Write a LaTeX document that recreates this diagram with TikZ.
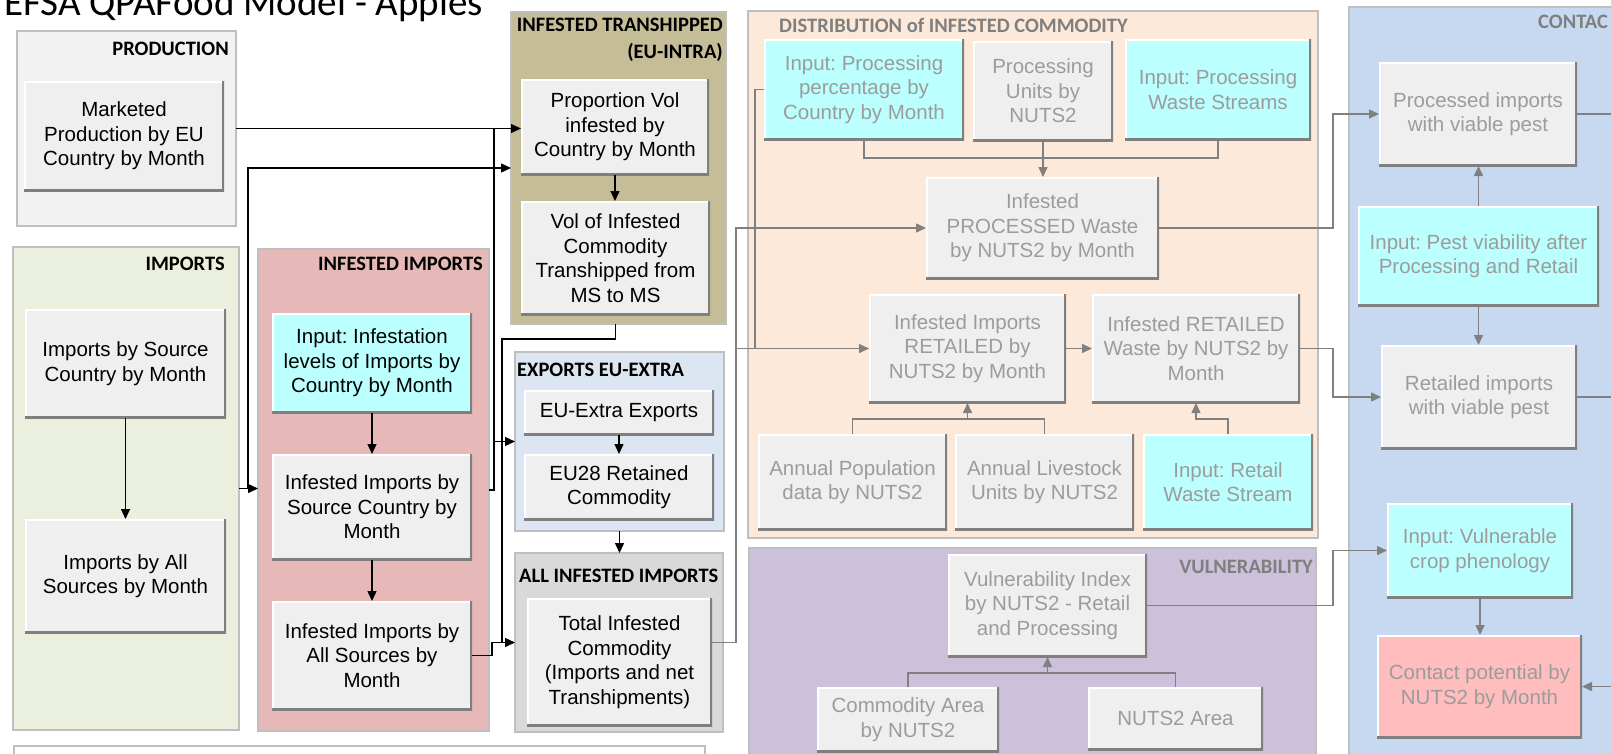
\documentclass[tikz,border=0pt]{standalone}
\usepackage{fontspec}
\newfontfamily\arialf{Liberation Sans}
\newfontfamily\calibf{Carlito}
\usetikzlibrary{arrows.meta,calc}
\frenchspacing
\definecolor{prodfill}{HTML}{F2F2F2}
\definecolor{impfill}{HTML}{EBF0DE}
\definecolor{inffill}{HTML}{E6B8B7}
\definecolor{tranfill}{HTML}{C4BD97}
\definecolor{expfill}{HTML}{DCE6F2}
\definecolor{allfill}{HTML}{D9D9D9}
\definecolor{distfill}{HTML}{FDE9D9}
\definecolor{vulfill}{HTML}{CCC0DA}
\definecolor{confill}{HTML}{C6D9F1}
\definecolor{contline}{HTML}{BFBFBF}
\definecolor{boxfill}{HTML}{EFEFEF}
\definecolor{cyanfill}{HTML}{BBFFFF}
\definecolor{pinkfill}{HTML}{FFBDBD}
\definecolor{shadowc}{HTML}{7F7F7F}
\definecolor{dimtext}{HTML}{9C9C9C}
\definecolor{labgray}{HTML}{7F7F7F}
\definecolor{graylink}{HTML}{808080}
\tikzset{
  cont/.style={draw=contline, line width=1.2pt, inner sep=0pt, outer sep=0pt},
  box/.style={fill=boxfill, inner sep=1pt, outer sep=0pt, align=center,
    font=\arialf\frenchspacing\fontsize{20.5}{24.5}\selectfont, text=black,
    path picture={
      \draw[white, line width=3pt] (path picture bounding box.south west) -- (path picture bounding box.north west) -- (path picture bounding box.north east);
      \draw[shadowc, line width=4.5pt] (path picture bounding box.north east) -- (path picture bounding box.south east) -- (path picture bounding box.south west);}},
  dbox/.style={box, text=dimtext},
  lab/.style={font=\calibf\bfseries\fontsize{20.5}{26}\selectfont, inner sep=0pt},
  blink/.style={draw=black, line width=1.4pt},
  glink/.style={draw=graylink, line width=1.5pt},
  arr/.style={-{Triangle[length=10pt,width=9pt]}},
}
\begin{document}
\begin{tikzpicture}[x=1pt,y=-1pt]
\useasboundingbox (0,0) rectangle (1611,753);
% title
\node[anchor=base west, inner sep=0pt, font=\calibf\fontsize{39}{41}\selectfont] (title) at (4,15) {EFSA QPAFood Model - Apples};
% containers
\node[cont, fill=prodfill, minimum width=219, minimum height=195] (prodC) at (126.5,128.5) {};
\node[cont, fill=impfill, minimum width=226, minimum height=483] (impC) at (126,488.5) {};
\node[cont, fill=inffill, minimum width=231, minimum height=482] (infC) at (373.5,490) {};
\node[cont, fill=tranfill, minimum width=215, minimum height=312] (tranC) at (618.5,168) {};
\node[cont, fill=expfill, minimum width=209, minimum height=179] (expC) at (619.5,441.5) {};
\node[cont, fill=allfill, minimum width=208, minimum height=179] (allC) at (619,642.5) {};
\node[cont, fill=distfill, minimum width=570, minimum height=527] (distC) at (1033,274.5) {};
\node[cont, fill=vulfill, minimum width=567, minimum height=222] (vulC) at (1032.5,659) {};
\node[cont, fill=confill, minimum width=291, minimum height=763] (conC) at (1494.5,388.5) {};
\node[cont, fill=white, minimum width=691, minimum height=30] (botC) at (359.5,761) {};
% container labels
\node[lab, anchor=base east] (prodL) at (229,55.6) {PRODUCTION};
\node[lab, anchor=base east] (impL) at (225,270.6) {IMPORTS};
\node[lab, anchor=base east] (infL) at (483,270.6) {INFESTED IMPORTS};
\node[lab, anchor=base east] (tranL) at (723,31.6) {INFESTED TRANSHIPPED};
\node[lab, anchor=base east] (tranLb) at (723,58.6) {(EU-INTRA)};
\node[lab, anchor=base west] (expL) at (517,376.6) {EXPORTS EU-EXTRA};
\node[lab, anchor=base west] (allL) at (519,582.6) {ALL INFESTED IMPORTS};
\node[lab, anchor=base west, text=labgray] (distL) at (779,32.6) {DISTRIBUTION of INFESTED COMMODITY};
\node[lab, anchor=base east, text=labgray] (vulL) at (1313,573.6) {VULNERABILITY};
\node[lab, anchor=base west, text=labgray] (conL) at (1538,28.6) {CONTAC};
% junction coordinates
\coordinate (j1) at (248,488.5);
\coordinate (j2) at (494,128.5);
\coordinate (j3) at (492,642.5);
\coordinate (j4) at (502,642.5);
\coordinate (jT) at (736,0);
\coordinate (jR) at (1333,0);
\coordinate (offR) at (1616,0);
% left boxes
\node[box, minimum width=200, minimum height=110] (mk) at (124,136) {Marketed\\Production by EU\\Country by Month};
\node[box, minimum width=201, minimum height=109] (isrc) at (125.5,363.5) {Imports by Source\\Country by Month};
\node[box, minimum width=201, minimum height=114] (iall) at (125.5,576) {Imports by All\\Sources by Month};
\node[box, fill=cyanfill, minimum width=200, minimum height=100] (ininp) at (372,363) {Input: Infestation\\levels of Imports by\\Country by Month};
\node[box, minimum width=200, minimum height=106] (insrc) at (372,507) {Infested Imports by\\Source Country by\\Month};
\node[box, minimum width=200, minimum height=109] (inall) at (372,655.5) {Infested Imports by\\All Sources by\\Month};
\node[box, minimum width=188, minimum height=96] (prop) at (615,127) {Proportion Vol\\infested by\\Country by Month};
\node[box, minimum width=189, minimum height=114] (vol) at (615.5,258) {Vol of Infested\\Commodity\\Transhipped from\\MS to MS};
\node[box, minimum width=190, minimum height=45] (euex) at (619,412.5) {EU-Extra Exports};
\node[box, minimum width=190, minimum height=66] (eu28) at (619,487) {EU28 Retained\\Commodity};
\node[box, minimum width=185, minimum height=128] (total) at (619.5,662) {Total Infested\\Commodity\\(Imports and net\\Transhipments)};
% distribution boxes
\node[dbox, fill=cyanfill, minimum width=200, minimum height=101] (pp) at (864,89.5) {Input: Processing\\percentage by\\Country by Month};
\node[dbox, minimum width=140, minimum height=100] (pu) at (1043,91) {Processing\\Units by\\NUTS2};
\node[dbox, fill=cyanfill, minimum width=186, minimum height=101] (pw) at (1218,89.5) {Input: Processing\\Waste Streams};
\node[dbox, minimum width=233, minimum height=102] (pwaste) at (1042.5,228) {Infested\\PROCESSED Waste\\by NUTS2 by Month};
\node[dbox, minimum width=197, minimum height=109] (ret) at (967.5,348.5) {Infested Imports\\RETAILED by\\NUTS2 by Month};
\node[dbox, minimum width=208, minimum height=109] (retw) at (1196,348.5) {Infested RETAILED\\Waste by NUTS2 by\\Month};
\node[dbox, minimum width=189, minimum height=96] (pop) at (852.5,482) {Annual Population\\data by NUTS2};
\node[dbox, minimum width=179, minimum height=96] (live) at (1044.5,482) {Annual Livestock\\Units by NUTS2};
\node[dbox, fill=cyanfill, minimum width=170, minimum height=96] (rws) at (1228,482) {Input: Retail\\Waste Stream};
% vulnerability boxes
\node[dbox, minimum width=199, minimum height=103] (vuln) at (1047.5,605.5) {Vulnerability Index\\by NUTS2 - Retail\\and Processing};
\node[dbox, minimum width=182, minimum height=65] (carea) at (908,719.5) {Commodity Area\\by NUTS2};
\node[dbox, minimum width=175, minimum height=63] (narea) at (1175.5,718.5) {NUTS2 Area};
% contact boxes
\node[dbox, minimum width=198, minimum height=104] (procv) at (1478,114) {Processed imports\\with viable pest};
\node[dbox, fill=cyanfill, minimum width=241, minimum height=100] (pest) at (1478.5,256) {Input: Pest viability after\\Processing and Retail};
\node[dbox, minimum width=196, minimum height=104] (retv) at (1479,397) {Retailed imports\\with viable pest};
\node[dbox, fill=cyanfill, minimum width=186, minimum height=95] (vcrop) at (1480,550.5) {Input: Vulnerable\\crop phenology};
\node[dbox, fill=pinkfill, minimum width=205, minimum height=103] (cpot) at (1479.5,686.5) {Contact potential by\\NUTS2 by Month};
% left connectors
\draw[blink, arr] (prodC.east) -- (prodC.east -| prop.west);
\draw[blink, arr] (impC.east) -- (impC.east -| infC.west);
\draw[blink, arr] (j1) |- (tranC.west);
\draw[blink] (infC.east) -| (j2);
\draw[blink, arr] (expC.west -| j2) -- (expC.west);
\draw[blink] (vol.south |- tranC.south) -- ++(0,15) -| (j4);
\draw[blink, arr] (inall.east) -| (j3) -- (allC.west);
\draw[blink, arr] (isrc.south) -- (isrc.south |- iall.north);
\draw[blink, arr] (ininp.south) -- (ininp.south |- insrc.north);
\draw[blink, arr] (insrc.south) -- (insrc.south |- inall.north);
\draw[blink, arr] (prop.south) -- (prop.south |- vol.north);
\draw[blink, arr] (euex.south) -- (euex.south |- eu28.north);
\draw[blink, arr] (expC.south) -- (expC.south |- allC.north);
% right connectors
\draw[glink, arr] (allC.east -| total.east) -- (allC.east -| jT) |- (pwaste.west);
\draw[glink, arr] (jT |- ret.west) -- (ret.west);
\draw[glink] (pp.west) -- ++(-9,0) |- (ret.west);
\draw[glink] (pp.south) -- ++(0,18) -| (pw.south);
\draw[glink, arr] (pu.south) -- (pu.south |- pwaste.north);
\draw[glink, arr] (ret.east) -- (ret.east -| retw.west);
\coordinate (jPL) at ($(pop.north)+(0,-15)$);
\draw[glink] (pop.north) -- (jPL) -| (live.north);
\draw[glink, arr] (ret.south |- jPL) -- (ret.south);
\draw[glink, arr] (rws.north) -- ++(0,-15) -| (retw.south);
\coordinate (jV) at ($(carea.north)+(0,-14)$);
\draw[glink] (carea.north) -- (jV) -| (narea.north);
\draw[glink, arr] (vuln.south |- jV) -- (vuln.south);
\draw[glink, arr] (pwaste.east) -- (pwaste.east -| jR) |- (procv.west);
\draw[glink, arr] (retw.east) -- (retw.east -| jR) |- (retv.west);
\draw[glink, arr] (vuln.east) -- (vuln.east -| jR) |- (vcrop.west);
\draw[glink, arr] (pest.north) -- (pest.north |- procv.south);
\draw[glink, arr] (pest.south) -- (pest.south |- retv.north);
\draw[glink, arr] (vcrop.south) -- (vcrop.south |- cpot.north);
\draw[glink] (procv.east) -- (procv.east -| offR);
\draw[glink] (retv.east) -- (retv.east -| offR);
\draw[glink, arr] (cpot.east -| offR) -- (cpot.east);
\end{tikzpicture}
\end{document}
